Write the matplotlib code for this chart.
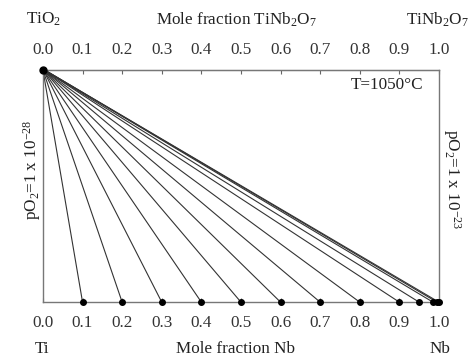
import numpy as np
import matplotlib
matplotlib.use('Agg')
import matplotlib.pyplot as plt

plt.rcParams['font.family'] = ['Liberation Serif', 'DejaVu Serif']
plt.rcParams['mathtext.fontset'] = 'custom'
plt.rcParams['mathtext.rm'] = 'Liberation Serif'
plt.rcParams['mathtext.it'] = 'Liberation Serif'

# mole fraction Nb at the bottom end of each tie line
nb_ends = [0.1, 0.2, 0.3, 0.4, 0.5, 0.6, 0.7, 0.8, 0.9, 0.95, 0.985, 0.995, 1.0]
# mole fraction TiNb2O7 at the top end of each tie line
oxide_ends = [0.0, 0.0, 0.001, 0.001, 0.002, 0.002, 0.003, 0.003, 0.004, 0.004, 0.005, 0.005, 0.005]
ticks = [0.0, 0.1, 0.2, 0.3, 0.4, 0.5, 0.6, 0.7, 0.8, 0.9, 1.0]
tick_labels = ['0.0', '0.1', '0.2', '0.3', '0.4', '0.5', '0.6', '0.7', '0.8', '0.9', '1.0']

fs = 12.3
fig = plt.figure(figsize=(4.72, 3.58), dpi=100)
ax = fig.add_axes([0.091, 0.156, 0.839, 0.648])

for top, bot in zip(oxide_ends, nb_ends):
    ax.plot([top, bot], [1, 0], color='#333333', lw=0.8)
ax.plot(nb_ends, [0]*len(nb_ends), 'o', color='black', ms=4, clip_on=False, zorder=5)
ax.plot([0], [1], 'o', color='black', ms=5, clip_on=False, zorder=5)

ax.set_xlim(0, 1)
ax.set_ylim(0, 1)
ax.set_yticks([])
ax.set_xticks(ticks)
ax.set_xticklabels(tick_labels, fontsize=fs, color='#333333')
ax.tick_params(axis='x', direction='in', length=3, pad=9, color='#666666')
for s in ax.spines.values():
    s.set_color('#777777')
    s.set_linewidth(1.0)

top_ax = ax.secondary_xaxis('top')
top_ax.set_xticks(ticks)
top_ax.set_xticklabels(tick_labels, fontsize=fs, color='#333333')
top_ax.tick_params(axis='x', direction='in', length=3, pad=9, color='#666666')
top_ax.spines['top'].set_color('#777777')

ax.text(0.96, 0.97, 'T=1050°C', transform=ax.transAxes, ha='right', va='top', fontsize=fs, color='#222222')

kw = dict(ha='center', va='center', fontsize=fs, color='#222222')
fig.text(0.092, 0.945, 'TiO$_2$', **kw)
fig.text(0.50, 0.945, 'Mole fraction TiNb$_2$O$_7$', **kw)
fig.text(0.927, 0.945, 'TiNb$_2$O$_7$', **kw)
fig.text(0.089, 0.025, 'Ti', **kw)
fig.text(0.50, 0.025, 'Mole fraction Nb', **kw)
fig.text(0.932, 0.025, 'Nb', **kw)
fig.text(0.068, 0.525, 'pO$_2$=1 x 10$^{-28}$', rotation=90, **kw)
fig.text(0.958, 0.50, 'pO$_2$=1 x 10$^{-23}$', rotation=270, **kw)

fig.savefig('out.png', dpi=100)
